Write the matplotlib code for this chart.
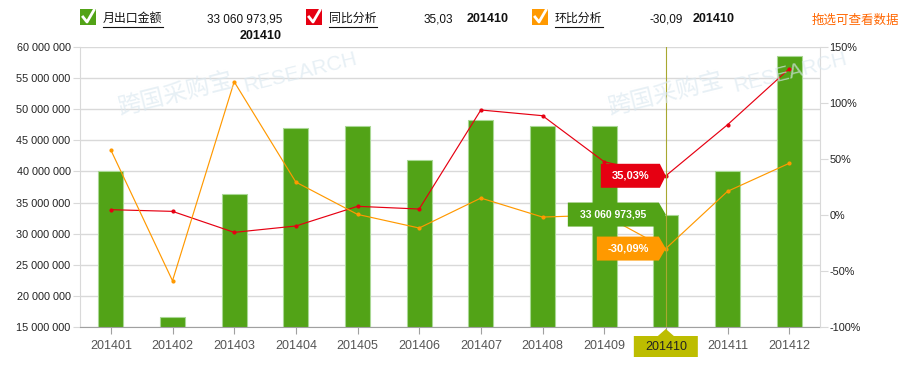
import numpy as np
import matplotlib
matplotlib.use("Agg")
import matplotlib.pyplot as plt
from matplotlib.patches import Polygon, Rectangle
from matplotlib.lines import Line2D
from matplotlib.transforms import IdentityTransform
from matplotlib.ticker import FuncFormatter

plt.rcParams['font.family'] = ['Liberation Sans', 'Noto Sans CJK SC', 'DejaVu Sans']

# data
months = ['201401', '201402', '201403', '201404', '201405', '201406',
          '201407', '201408', '201409', '201410', '201411', '201412']
export_amount = [40.0e6, 16.6e6, 36.3e6, 47.05e6, 47.28e6, 41.85e6,
                 48.24e6, 47.38e6, 47.33e6, 33060973.95, 40.03e6, 58.65e6]
yoy_pct = [4.7, 3.2, -15.6, -9.9, 7.7, 5.3, 93.9, 88.8, 47.6, 35.03, 80.7, 130.8]
mom_pct = [58.1, -58.9, 119.2, 29.4, 0.5, -11.7, 15.1, -1.9, -0.1, -30.09, 21.1, 46.2]
selected = 9

GREEN = '#52a317'
RED = '#e60012'
ORANGE = '#ff9900'
OLIVE = '#bdbd00'

W, H = 905, 366
fig = plt.figure(figsize=(W / 100, H / 100), dpi=100)
ax = fig.add_axes([80 / W, 39.3 / H, 740 / W, 279.4 / H])

x = np.arange(len(months))
ax.bar(x, export_amount, width=0.405, color=GREEN, edgecolor='#a9d894',
       linewidth=0.8, zorder=2)
ax.set_xlim(-0.5, len(months) - 0.5)
ax.set_ylim(15e6, 60e6)
ax.set_yticks(np.arange(15e6, 60e6 + 1, 5e6))
ax.yaxis.set_major_formatter(FuncFormatter(lambda v, p: f"{int(v):,}".replace(',', ' ')))
ax.set_xticks(x)
ax.set_xticklabels(months)
ax.set_axisbelow(True)
ax.grid(axis='y', color='#d9d9d9', lw=1)
for s in ['top', 'right']:
    ax.spines[s].set_visible(False)
ax.spines['left'].set_color('#d9d9d9')
ax.spines['bottom'].set_color('#a0a0a0')
ax.tick_params(axis='y', length=5.3, color='#d9d9d9', labelsize=7.8,
               labelcolor='#222222', pad=1.5)
ax.tick_params(axis='x', length=5, color='#a0a0a0', labelsize=9,
               labelcolor='#555555', pad=4.3)

ax2 = ax.twinx()
ax2.set_ylim(-100, 150)
ax2.set_yticks(np.arange(-100, 151, 50))
ax2.yaxis.set_major_formatter(FuncFormatter(lambda v, p: f"{int(v)}%"))
for s in ['top', 'left', 'bottom']:
    ax2.spines[s].set_visible(False)
ax2.spines['right'].set_color('#d9d9d9')
ax2.tick_params(axis='y', length=5.8, color='#d9d9d9', labelsize=7.8,
                labelcolor='#222222', pad=1)
ax2.plot(x, yoy_pct, color=RED, lw=0.85, marker='o', ms=2, zorder=3)
ax2.plot(x, mom_pct, color=ORANGE, lw=0.85, marker='o', ms=2, zorder=3)
ax2.axvline(selected, color='#a8a830', lw=0.8, zorder=4)

# watermark
for wx, wy in [(175, 95), (665, 95)]:
    fig.text(wx / W, 1 - wy / H, '跨国采购宝', fontsize=17, color='#dbe8f0',
             rotation=14, ha='center', va='center', alpha=0.65)
    fig.text((wx + 125) / W, 1 - (wy - 22) / H, 'RESEARCH', fontsize=15,
             color='#dbe8f0', rotation=14, ha='center', va='center', alpha=0.65)

ident = IdentityTransform()


def tooltip(axis, xv, yv, text, color, left, right, fs=8):
    px, py = axis.transData.transform((xv, yv))
    half = 12
    pts = [(px - left, py + half), (px - right, py + half), (px, py),
           (px - right, py - half), (px - left, py - half)]
    fig.add_artist(Polygon(pts, closed=True, transform=ident, facecolor=color,
                           edgecolor='none', zorder=10))
    fig.text(px - (left + right) / 2, py, text, transform=ident, color='white',
             fontsize=fs, fontweight='bold', ha='center', va='center', zorder=11)


tooltip(ax2, selected, yoy_pct[selected], f"{yoy_pct[selected]:.2f}%".replace('.', ','), RED, 65, 6)
amt = f"{export_amount[selected]:,.2f}".replace(',', ' ').replace('.', ',')
tooltip(ax, selected, export_amount[selected], amt, GREEN, 98, 7, fs=7.5)
tooltip(ax2, selected, mom_pct[selected], f"{mom_pct[selected]:.2f}%".replace('.', ','), ORANGE, 69, 7)

# highlighted x label
px, _ = ax.transData.transform((selected, 15e6))
lab = [(px - 32, 30), (px - 8, 30), (px, 37), (px + 8, 30), (px + 32, 30),
       (px + 32, 9), (px - 32, 9)]
fig.add_artist(Polygon(lab, closed=True, transform=ident, facecolor=OLIVE,
                       edgecolor='none', zorder=10))
fig.text(px, 19.5, months[selected], transform=ident, fontsize=9,
         color='#222222', ha='center', va='center', zorder=11)


# legend row
def checkbox(x0, color):
    fig.add_artist(Rectangle((x0, H - 25), 16, 16, transform=ident,
                             facecolor=color, edgecolor='none', zorder=10))
    fig.add_artist(Line2D([x0 + 3, x0 + 7, x0 + 14], [H - 17, H - 22, H - 10],
                          transform=ident, color='white', lw=2, zorder=11))


def label(x0, text, width):
    fig.text(x0, H - 19, text, transform=ident, fontsize=8.6, color='#111111',
             ha='left', va='center')
    fig.add_artist(Line2D([x0, x0 + width], [H - 27, H - 27], transform=ident,
                          color='#111111', lw=0.8))


checkbox(80, GREEN)
label(103, '月出口金额', 60)
fig.text(282, H - 19, amt, transform=ident, fontsize=8.5, color='#111111',
         ha='right', va='center')
fig.text(282, H - 36, months[selected], transform=ident, fontsize=9,
         fontweight='bold', color='#111111', ha='right', va='center')

checkbox(306, RED)
label(329, '同比分析', 48)
fig.text(424, H - 19, f"{yoy_pct[selected]:.2f}".replace('.', ','), transform=ident,
         fontsize=8.5, color='#111111', ha='left', va='center')
fig.text(467, H - 19, months[selected], transform=ident, fontsize=9,
         fontweight='bold', color='#111111', ha='left', va='center')

checkbox(532, ORANGE)
label(555, '环比分析', 48)
fig.text(649, H - 19, f"{mom_pct[selected]:.2f}".replace('.', ','), transform=ident,
         fontsize=8.5, color='#111111', ha='left', va='center')
fig.text(693, H - 19, months[selected], transform=ident, fontsize=9,
         fontweight='bold', color='#111111', ha='left', va='center')

fig.text(812, H - 21, '拖选可查看数据', transform=ident, fontsize=9,
         color='#ff6600', ha='left', va='center')

fig.savefig('out.png', dpi=100)
